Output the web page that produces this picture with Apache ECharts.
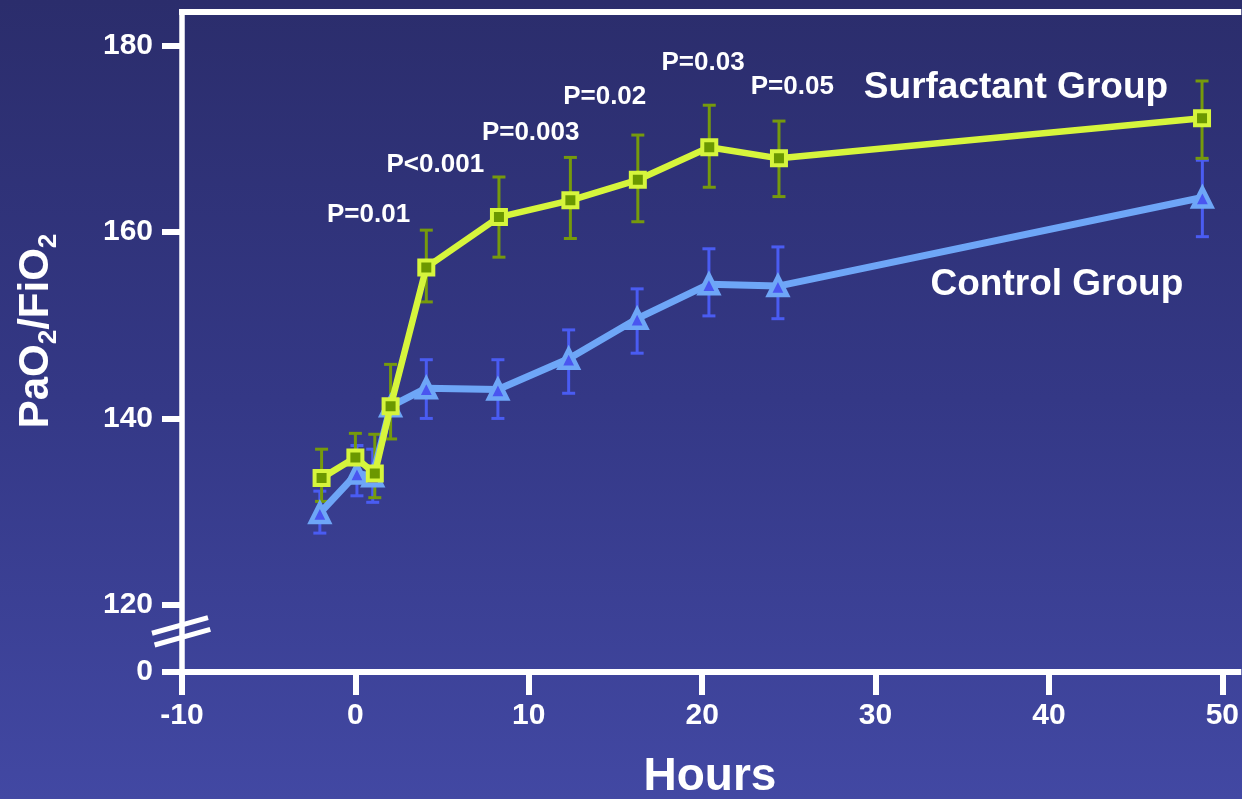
<!DOCTYPE html>
<html>
<head>
<meta charset="utf-8">
<script src="https://cdn.jsdelivr.net/npm/echarts@6/dist/echarts.min.js"></script>
<style>
  html, body { margin: 0; padding: 0; }
  #chart {
    width: 1242px; height: 799px;
    background: linear-gradient(to bottom, rgb(43,45,108) 0%, rgb(52,56,134) 50%, rgb(66,72,163) 100%);
  }
</style>
</head>
<body>
<div id="chart"></div>
<script>
// Hours after start, PaO2/FiO2 mean and error-bar ends, per group
const surfHours = [-1.95, 0, 1.12, 2.03, 4.09, 8.28, 12.4, 16.29, 20.41, 24.43, 48.83];
const surfMean  = [133.6, 135.8, 134.1, 141.3, 156.2, 161.6, 163.4, 165.6, 169.1, 167.9, 172.2];
const surfLow   = [131.1, 133.2, 131.5, 137.8, 152.5, 157.3, 159.3, 161.1, 164.8, 163.8, 167.9];
const surfHigh  = [136.7, 138.4, 138.3, 145.8, 160.2, 165.9, 168.0, 170.4, 173.6, 171.9, 176.2];

const ctrlHours = [-2.05, 0.09, 1.0, 2.03, 4.09, 8.22, 12.3, 16.25, 20.39, 24.37, 48.85];
const ctrlMean  = [129.85, 134.1, 133.8, 141.3, 143.25, 143.1, 146.4, 150.7, 154.4, 154.2, 163.7];
const ctrlLow   = [127.7, 131.7, 131.0, null, 140.0, 140.0, 142.7, 147.0, 151.0, 150.7, 159.5];
const ctrlHigh  = [132.2, 137.1, 136.7, null, 146.3, 146.3, 149.5, 153.9, 158.2, 158.4, 167.7];

// Axis ticks; the lowest y tick stands for zero below the axis break
const xTicks = [-10, 0, 10, 20, 30, 40, 50];
const yTicks = [112.8, 120, 140, 160, 180];
const yTickLabels = ['0', '120', '140', '160', '180'];

// Significance notes and group names, anchored in data units
const pTexts = ['P=0.01', 'P<0.001', 'P=0.003', 'P=0.02', 'P=0.03', 'P=0.05'];
const pAnchors = [[0.76, 161.85], [4.61, 167.2], [10.11, 170.6], [14.38, 174.5], [20.05, 178.2], [25.2, 175.6]];
const groupNames = ['Surfactant Group', 'Control Group'];
const groupAnchors = [[38.1, 175.45], [40.46, 154.3]];

const FONT = '"Liberation Sans", Arial, Helvetica, sans-serif';
const Y_MIN = 112.8, Y_MAX = 183.6, X_MIN = -10, X_MAX = 50.92;

const zip3 = (a, b, c) => a.map((v, i) => [v, b[i], c[i]]);

function errorBars(color) {
  return function (params, api) {
    const x = api.value(0), lo = api.value(1), hi = api.value(2);
    if (isNaN(lo) || isNaN(hi)) return null;
    const top = api.coord([x, hi]);
    const bot = api.coord([x, lo]);
    const half = 6.5;
    const style = { stroke: color, lineWidth: 3 };
    return {
      type: 'group',
      children: [
        { type: 'line', shape: { x1: top[0], y1: top[1], x2: bot[0], y2: bot[1] }, style },
        { type: 'line', shape: { x1: top[0] - half, y1: top[1], x2: top[0] + half, y2: top[1] }, style },
        { type: 'line', shape: { x1: bot[0] - half, y1: bot[1], x2: bot[0] + half, y2: bot[1] }, style }
      ]
    };
  };
}

const textSeries = (texts, anchors, size) => ({
  type: 'scatter',
  silent: true,
  symbolSize: 1,
  itemStyle: { color: 'rgba(0,0,0,0)', opacity: 1 },
  z: 10,
  label: {
    show: true, position: 'inside', formatter: '{b}', opacity: 1,
    color: '#ffffff', fontSize: size, fontWeight: 'bold', fontFamily: FONT,
    textBorderWidth: 0
  },
  labelLayout: { hideOverlap: false },
  data: texts.map((t, i) => ({ name: t, value: anchors[i] }))
});

const chart = echarts.init(document.getElementById('chart'), null, { renderer: 'canvas' });

chart.setOption({
  backgroundColor: 'transparent',
  animation: false,
  grid: { left: 182, top: 12, right: 0, bottom: 127, containLabel: false },
  xAxis: [{
    type: 'value', min: X_MIN, max: X_MAX,
    splitLine: { show: false },
    axisLine: { onZero: false, lineStyle: { color: '#ffffff', width: 6, cap: 'square' } },
    axisTick: { customValues: xTicks, length: 23, lineStyle: { color: '#ffffff', width: 6 } },
    axisLabel: {
      customValues: xTicks, margin: 29, color: '#ffffff',
      fontSize: 30, fontWeight: 'bold', fontFamily: FONT
    }
  }, {
    type: 'value', position: 'top', min: X_MIN, max: X_MAX,
    splitLine: { show: false },
    axisLine: { onZero: false, lineStyle: { color: '#ffffff', width: 6, cap: 'square' } },
    axisTick: { show: false }, axisLabel: { show: false }
  }],
  yAxis: {
    type: 'value', min: Y_MIN, max: Y_MAX,
    splitLine: { show: false },
    axisLine: { show: true, onZero: false, lineStyle: { color: '#ffffff', width: 5.5, cap: 'square' } },
    axisTick: { customValues: yTicks, length: 20, lineStyle: { color: '#ffffff', width: 6 } },
    axisLabel: {
      customValues: yTicks, margin: 29, color: '#ffffff',
      fontSize: 30, fontWeight: 'bold', fontFamily: FONT,
      formatter: v => {
        const i = yTicks.findIndex(t => Math.abs(t - v) < 1e-6);
        return i >= 0 ? yTickLabels[i] : '';
      }
    }
  },
  series: [
    { type: 'custom', renderItem: errorBars('#4a5cf2'), data: zip3(ctrlHours, ctrlLow, ctrlHigh), z: 1, silent: true },
    { type: 'custom', renderItem: errorBars('#769a0c'), data: zip3(surfHours, surfLow, surfHigh), z: 1, silent: true },
    {
      name: 'Control Group', type: 'line', z: 3,
      data: ctrlHours.map((h, i) => [h, ctrlMean[i]]),
      lineStyle: { color: '#6ea6f7', width: 7 },
      symbol: 'triangle', symbolSize: 18,
      itemStyle: { color: '#4a55f0', borderColor: '#6ea6f7', borderWidth: 4.5 }
    },
    {
      name: 'Surfactant Group', type: 'line', z: 4,
      data: surfHours.map((h, i) => [h, surfMean[i]]),
      lineStyle: { color: '#d6f53c', width: 6.5 },
      symbol: 'rect', symbolSize: 14,
      itemStyle: { color: '#6b9800', borderColor: '#d6f53c', borderWidth: 4 }
    },
    textSeries(pTexts, pAnchors, 26),
    textSeries(groupNames, groupAnchors, 37)
  ]
});

// Axis titles and the break marks on the y axis
const axisX = chart.convertToPixel({ xAxisIndex: 0 }, X_MIN);
const breakY = chart.convertToPixel({ yAxisIndex: 0 }, 117.2);
const breakStyle = { stroke: '#ffffff', lineWidth: 5 };
chart.setOption({
  graphic: [
    {
      type: 'line', z: 20,
      shape: { x1: axisX - 30, y1: breakY + 2.3, x2: axisX + 26, y2: breakY - 13.3 },
      style: breakStyle
    },
    {
      type: 'line', z: 20,
      shape: { x1: axisX - 27.4, y1: breakY + 14, x2: axisX + 28.3, y2: breakY - 1.7 },
      style: breakStyle
    },
    {
      type: 'text', x: 710, y: 777, z: 20,
      style: {
        text: 'Hours', fill: '#ffffff', font: 'bold 46px ' + FONT,
        align: 'center', verticalAlign: 'middle'
      }
    },
    {
      type: 'text', x: 36, y: 331, rotation: Math.PI / 2, z: 20,
      style: {
        text: '{m|PaO}{s|2}{m|/FiO}{s|2}',
        align: 'center', verticalAlign: 'middle',
        rich: {
          m: { fill: '#ffffff', fontSize: 42, fontWeight: 'bold', fontFamily: FONT, lineHeight: 52 },
          s: { fill: '#ffffff', fontSize: 26, fontWeight: 'bold', fontFamily: FONT, lineHeight: 52, verticalAlign: 'bottom' }
        }
      }
    }
  ]
});
</script>
</body>
</html>
